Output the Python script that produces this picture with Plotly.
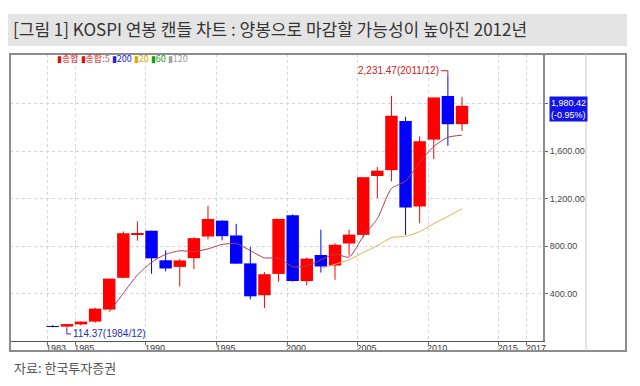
import plotly.graph_objects as go

# ---------------- data ----------------
years = list(range(1983, 2013))
opens = [122.5, 121.2, 140.0, 163.4, 264.8, 532.0, 895.0, 928.8, 679.8, 624.2,
         697.4, 880.2, 1013.6, 888.9, 653.8, 385.5, 565.1, 1059.0, 505.0, 724.0,
         635.2, 821.3, 893.7, 1389.3, 1438.9, 1853.5, 1132.9, 1696.1, 2063.7, 1826.4]
highs = [134.5, 142.5, 163.4, 279.7, 525.1, 922.6, 1007.8, 928.8, 763.1, 691.5,
         874.1, 1138.8, 1016.8, 986.8, 792.3, 579.9, 1028.1, 1066.2, 704.5, 937.6,
         823.0, 936.1, 1379.4, 1464.7, 2064.9, 1888.9, 1723.2, 2052.0, 2231.47, 2057.3]
lows = [115.6, 114.37, 131.4, 153.9, 264.8, 527.9, 844.8, 566.3, 586.5, 459.1,
        605.9, 855.4, 847.1, 651.2, 350.7, 277.4, 498.4, 500.6, 468.8, 576.5,
        515.2, 719.6, 870.8, 1203.9, 1345.1, 892.2, 992.7, 1532.7, 1644.1, 1769.3]
closes = [121.2, 142.5, 163.4, 272.6, 525.1, 907.2, 909.7, 696.1, 610.9, 678.4,
          866.2, 1027.4, 882.9, 651.2, 376.3, 562.5, 1028.1, 504.6, 693.7, 627.6,
          810.7, 895.9, 1379.4, 1434.5, 1897.1, 1124.5, 1682.8, 2051.0, 1825.7, 1980.42]

ma5_years = list(range(1987, 2013))
ma5_values = [245, 402, 556, 662, 730, 760, 752, 776, 813, 821, 761, 700, 700,
              625, 633, 683, 733, 706, 882, 1030, 1284, 1346, 1504, 1638, 1716, 1733]

ma20_years = list(range(2002, 2013))
ma20_values = [611, 646, 684, 744, 802, 871, 882, 921, 988, 1049, 1114]

xtick_labels = ["1983", "1985", "1990", "1995", "2000", "2005", "2010", "2015", "2017"]
xtick_years = [1983, 1985, 1990, 1995, 2000, 2005, 2010, 2015, 2017]
ytick_vals = [400, 800, 1200, 1600, 2000]
ytick_text = ["400.00", "800.00", "1,200.00", "1,600.00", ""]

last_close = 1980.42
last_change = "-0.95%"

title_text = "[그림 1] KOSPI 연봉 캔들 차트 : 양봉으로 마감할 가능성이 높아진 2012년"
source_text = "자료: 한국투자증권"

# ---------------- figure ----------------
NARROW = "Liberation Sans Narrow, Arial Narrow, sans-serif"
KR = "Noto Sans CJK KR, sans-serif"
UP, DOWN = "#ff0000", "#0000ff"

fig = go.Figure()

# wicks
for col, cond in ((UP, lambda o, c: c >= o), (DOWN, lambda o, c: c < o)):
    wx, wy = [], []
    for yr, o, h, l, c in zip(years, opens, highs, lows, closes):
        if cond(o, c):
            wx += [yr, yr, None]
            wy += [l, h, None]
    fig.add_trace(go.Scatter(x=wx, y=wy, mode="lines", line=dict(color=col, width=1),
                             showlegend=False, hoverinfo="skip"))

# bodies
fig.add_trace(go.Bar(
    x=years,
    y=[max(abs(c - o), 2) for o, c in zip(opens, closes)],
    base=[min(o, c) for o, c in zip(opens, closes)],
    width=0.88,
    marker=dict(color=[UP if c >= o else DOWN for o, c in zip(opens, closes)],
                line=dict(width=0)),
    showlegend=False, hoverinfo="skip",
))

fig.add_trace(go.Scatter(
    x=ma5_years, y=ma5_values, mode="lines",
    line=dict(color="#b04048", width=1, shape="spline", smoothing=0.6),
    showlegend=False, hoverinfo="skip",
))
fig.add_trace(go.Scatter(
    x=ma20_years, y=ma20_values, mode="lines",
    line=dict(color="#e0b050", width=1, shape="spline", smoothing=0.6),
    showlegend=False, hoverinfo="skip",
))

# max / min markers derived from the data
imax = highs.index(max(highs))
imin = lows.index(min(lows))
ymax, xmax = highs[imax], years[imax]
ymin, xmin = lows[imin], years[imin]

fig.add_trace(go.Scatter(
    x=[xmax - 0.5, xmax, xmax], y=[ymax + 45, ymax + 45, ymax], mode="lines",
    line=dict(color="#d02020", width=1), showlegend=False, hoverinfo="skip",
))
fig.add_trace(go.Scatter(
    x=[xmin, xmin, xmin + 0.3], y=[ymin, ymin - 55, ymin - 55], mode="lines",
    line=dict(color="#2030c0", width=1), showlegend=False, hoverinfo="skip",
))

annotations = [
    dict(x=xmax - 0.52, y=ymax + 45, xref="x", yref="y", text=f"{ymax:,.2f}({xmax}/12)",
         showarrow=False, xanchor="right", yanchor="middle",
         font=dict(family=NARROW, size=10, color="#d02020")),
    dict(x=xmin + 0.3, y=ymin - 55, xref="x", yref="y", text=f"{ymin:,.2f}({xmin}/12)",
         showarrow=False, xanchor="left", yanchor="middle",
         font=dict(family=NARROW, size=10, color="#2030c0")),
    dict(x=1, y=last_close, xref="paper", yref="y", xshift=6, yshift=-3,
         text=f"{last_close:,.2f}<br>({last_change})", showarrow=False,
         xanchor="left", yanchor="middle", align="left", bgcolor="#1414e6",
         borderpad=1, font=dict(family=NARROW, size=9, color="#ffffff")),
    dict(x=0.085, y=0.986, xref="paper", yref="paper", showarrow=False,
         xanchor="left", yanchor="middle",
         text=("<span style='color:#e01010'>▮종합</span> "
               "<span style='color:#e01010'>▮종합</span><span style='color:#c06060'>:5</span> "
               "<span style='color:#2020e0'>▮200</span> "
               "<span style='color:#e0a800'>▮20</span> "
               "<span style='color:#10a010'>▮60</span> "
               "<span style='color:#a0a0a0'>▮120</span>"),
         font=dict(family=KR, size=9)),
    dict(x=0.004, y=-0.094, xref="paper", yref="paper", text=source_text,
         showarrow=False, xanchor="left", yanchor="middle",
         font=dict(family=KR, size=13, color="#555555")),
]

# plot area: x 10..543, y 54..341 (pixels)
PW, PH = 533.0, 287.0
def px(x):
    return (x - 10) / PW
def py(y):
    return (341 - y) / PH

shapes = [
    dict(type="rect", xref="paper", yref="paper", x0=px(8), x1=px(627), y0=py(46), y1=py(14),
         fillcolor="#e4e4e4", line=dict(width=0), layer="below"),
    dict(type="rect", xref="paper", yref="paper", x0=px(10), x1=px(626), y0=py(351), y1=py(54),
         line=dict(color="#8c8c8c", width=2), fillcolor="rgba(0,0,0,0)"),
    dict(type="line", xref="paper", yref="paper", x0=px(586), x1=px(586), y0=py(351), y1=py(54),
         line=dict(color="#c8c8c8", width=1)),
]

fig.update_layout(
    width=640, height=386,
    margin=dict(l=10, r=97, t=54, b=45),
    paper_bgcolor="#ffffff", plot_bgcolor="#ffffff",
    title=dict(text=title_text, x=13 / 640, xanchor="left", xref="container",
               y=1 - 30 / 386, yanchor="middle", yref="container",
               font=dict(family=KR, size=17, color="#333333")),
    annotations=annotations, shapes=shapes,
    hovermode=False,
)

fig.update_xaxes(
    range=[1979.97, 2017.74],
    tickvals=[y - 0.4 for y in xtick_years], ticktext=xtick_labels,
    ticks="outside", ticklen=3, tickcolor="#666666",
    ticklabelshift=9, ticklabelstandoff=-5,
    tickfont=dict(family=NARROW, size=9, color="#333333"),
    showgrid=True, gridcolor="#d4d4d4", griddash="dot", gridwidth=1,
    showline=True, linecolor="#555555", linewidth=1, zeroline=False,
)
fig.update_yaxes(
    side="right", range=[0, 2417],
    tickvals=ytick_vals, ticktext=ytick_text,
    ticks="outside", ticklen=3, tickcolor="#666666",
    tickfont=dict(family=NARROW, size=9, color="#444444"),
    showgrid=True, gridcolor="#d4d4d4", griddash="dot", gridwidth=1,
    showline=True, linecolor="#8c8c8c", linewidth=2, zeroline=False,
)

fig.write_html("out.html", config={"displayModeBar": False},
               post_script="document.body.style.margin='0';document.body.style.overflow='hidden';")
